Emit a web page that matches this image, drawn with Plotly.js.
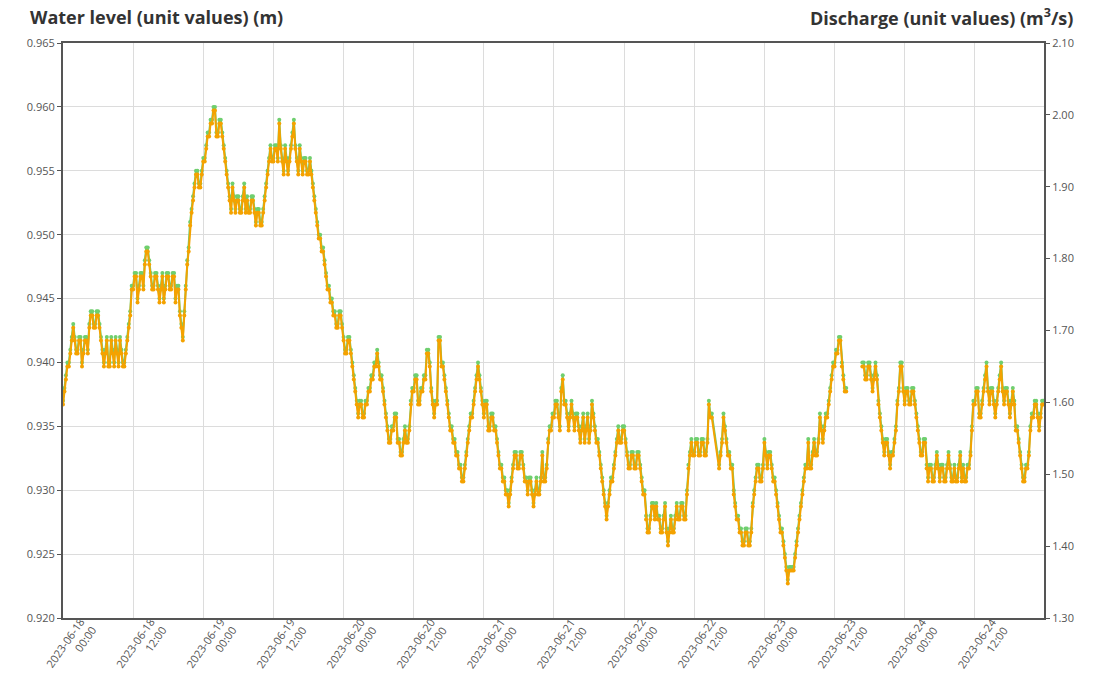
<!DOCTYPE html>
<html>
<head>
<meta charset="utf-8">
<script src="https://cdn.plot.ly/plotly-3.0.1.min.js"></script>
<style>
  html, body { margin: 0; padding: 0; background: #fff; }
  #chart { width: 1095px; height: 673px; }
</style>
</head>
<body>
<div id="chart"></div>
<script>
// 15-minute readings starting 2023-06-18 00:00
const seriesStart = '2023-06-18T00:00:00';
const stepMinutes = 15;

// Water level in millimetres (937 = 0.937 m). null = no reading.
const waterLevelMm = [
  // h 0 - 4.75
  937,938,939,940,940,941,942,943,942,941,941,942,942,940,941,942,942,941,943,944,
  // h 5 - 9.75
  944,943,943,944,944,943,942,941,940,941,942,940,940,942,941,940,942,941,940,942,
  // h 10 - 14.75
  941,940,940,941,942,943,944,946,946,947,947,945,946,947,947,946,948,949,949,948,
  // h 15 - 19.75
  947,946,946,947,947,946,945,946,947,945,946,947,947,946,946,947,947,945,946,946,
  // h 20 - 24.75
  944,943,942,944,946,948,949,951,952,953,954,955,955,954,954,955,956,956,957,958,
  // h 25 - 29.75
  958,959,959,960,960,958,958,959,959,958,957,956,955,954,953,952,954,953,952,953,
  // h 30 - 34.75
  953,952,952,953,954,952,953,952,952,953,953,952,951,952,952,951,951,952,953,954,
  // h 35 - 39.75
  955,956,957,956,956,957,957,956,959,957,956,955,957,956,955,956,957,958,959,957,
  // h 40 - 44.75
  956,955,957,956,955,956,956,955,955,956,955,954,953,952,951,950,950,949,949,948,
  // h 45 - 49.75
  947,946,946,945,945,944,944,943,943,944,944,943,942,941,941,942,942,941,940,939,
  // h 50 - 54.75
  938,937,936,937,937,936,936,937,937,938,938,939,939,940,940,941,940,939,939,938,
  // h 55 - 59.75
  937,936,935,934,934,935,935,936,936,934,934,933,933,934,935,934,934,935,937,938,
  // h 60 - 64.75
  938,939,939,937,937,938,938,939,939,941,941,940,938,937,936,937,937,942,942,940,
  // h 65 - 69.75
  940,939,938,937,936,935,935,934,934,933,933,932,932,931,931,932,933,934,935,936,
  // h 70 - 74.75
  936,937,938,939,940,939,938,937,936,937,937,935,935,936,936,935,935,934,933,932,
  // h 75 - 79.75
  932,931,931,930,930,929,930,931,932,933,933,932,932,933,933,932,931,931,930,931,
  // h 80 - 84.75
  931,930,929,930,931,930,930,931,933,931,931,932,934,935,935,936,936,937,937,936,
  // h 85 - 89.75
  935,938,939,937,937,936,935,936,937,936,935,936,936,935,934,935,936,934,935,936,
  // h 90 - 94.75
  934,935,937,936,935,934,934,933,932,931,930,929,928,929,930,931,931,932,933,934,
  // h 95 - 99.75
  935,934,934,935,935,934,933,932,932,933,933,932,932,933,933,932,931,930,930,928,
  // h 100 - 104.75
  927,927,928,929,929,928,929,928,928,927,927,928,929,927,926,927,928,927,927,928,
  // h 105 - 109.75
  929,928,928,929,929,928,928,930,932,933,934,933,933,934,934,933,933,934,934,933,
  // h 110 - 114.75
  933,934,937,936,936,null,null,null,null,932,933,934,936,935,934,933,933,932,932,930,
  // h 115 - 119.75
  929,928,928,927,927,926,926,927,927,926,926,927,929,930,931,932,932,931,931,932,
  // h 120 - 124.75
  934,933,932,933,933,932,931,931,930,929,928,927,927,926,925,924,923,924,924,924,
  // h 125 - 129.75
  924,925,926,927,928,929,930,931,932,932,934,932,932,933,934,933,933,934,936,935,
  // h 130 - 134.75
  934,935,936,936,937,938,939,940,940,941,941,942,942,940,939,938,938,null,null,null,
  // h 135 - 139.75
  null,null,null,null,null,null,null,940,940,939,939,940,940,939,938,939,940,939,937,936,
  // h 140 - 144.75
  935,934,933,934,934,933,932,933,933,934,935,937,938,940,940,938,937,938,938,937,
  // h 145 - 149.75
  937,938,938,937,936,935,934,933,933,934,934,932,931,932,932,931,931,932,933,932,
  // h 150 - 154.75
  931,932,932,931,931,932,933,932,931,931,932,931,931,932,933,931,932,931,931,932,
  // h 155 - 159.75
  932,933,935,937,937,938,938,936,936,937,938,939,940,938,937,938,938,937,936,937,
  // h 160 - 164.75
  938,939,940,938,937,938,938,937,936,937,938,937,935,935,934,933,932,931,931,932,
  // h 165 - 167.75
  932,933,935,936,936,937,937,936,935,936,937,937
];
// Missing readings (h 111.25 - 112) that the plotted line bridges with a straight segment
const bridgedGaps = [445, 446, 447, 448];

// Rating table read across the two axes: stage (mm) -> discharge (m3/s)
const ratingStageMm = [923,924,925,926,927,928,929,930,931,932,933,934,935,936,937,938,939,940,941,942,
  943,944,945,946,947,948,949,950,951,952,953,954,955,956,957,958,959,960];
const ratingQ = [1.348,1.366,1.384,1.401,1.419,1.437,1.455,1.472,1.490,1.508,
  1.526,1.544,1.561,1.579,1.597,1.615,1.632,1.650,1.668,1.686,
  1.704,1.721,1.739,1.757,1.775,1.792,1.810,1.828,1.846,1.864,
  1.881,1.899,1.917,1.935,1.953,1.970,1.988,2.006];

// Axis ranges and tick labels
const stageRange = [0.920, 0.965];
const dischargeRange = [1.30, 2.10];
const xRange = ['2023-06-18 00:00', '2023-06-24 23:50'];
const tickDates = ['2023-06-18 00:00','2023-06-18 12:00','2023-06-19 00:00','2023-06-19 12:00',
  '2023-06-20 00:00','2023-06-20 12:00','2023-06-21 00:00','2023-06-21 12:00',
  '2023-06-22 00:00','2023-06-22 12:00','2023-06-23 00:00','2023-06-23 12:00',
  '2023-06-24 00:00','2023-06-24 12:00'];

// Build x/y arrays
const t0 = Date.parse(seriesStart + 'Z');
const times = [], stageY = [], qY = [];
waterLevelMm.forEach((mm, i) => {
  if (bridgedGaps.includes(i)) return;
  times.push(new Date(t0 + i * stepMinutes * 60000).toISOString().slice(0, 19).replace('T', ' '));
  if (mm === null) { stageY.push(null); qY.push(null); return; }
  stageY.push(mm / 1000);
  const k = ratingStageMm.indexOf(mm);
  qY.push(k >= 0 ? ratingQ[k] : null);
});

const green = '#6fcf6f';
const orange = '#f4a200';

const traces = [
  {
    x: times, y: stageY, type: 'scatter', mode: 'lines+markers',
    name: 'Water level', yaxis: 'y', connectgaps: false,
    line: { color: green, width: 2 },
    marker: { color: green, size: 4 }
  },
  {
    x: times, y: qY, type: 'scatter', mode: 'lines+markers',
    name: 'Discharge', yaxis: 'y2', connectgaps: false,
    line: { color: orange, width: 2 },
    marker: { color: orange, size: 4 }
  }
];

const tickFont = { family: 'Open Sans, sans-serif', size: 11, color: '#555' };
const titleFont = { family: 'Open Sans, sans-serif', size: 18, color: '#333' };

const annotations = [
  {
    text: '<b>Water level (unit values) (m)</b>', xref: 'paper', yref: 'paper',
    x: 0, y: 1, xanchor: 'left', yanchor: 'middle', xshift: -35, yshift: 26,
    showarrow: false, font: titleFont
  },
  {
    text: '<b>Discharge (unit values) (m<sup>3</sup>/s)</b>', xref: 'paper', yref: 'paper',
    x: 1, y: 1, xanchor: 'right', yanchor: 'middle', xshift: 31, yshift: 26,
    showarrow: false, font: titleFont
  }
];
tickDates.forEach(d => {
  const parts = d.split(' ');
  annotations.push({
    text: parts[0] + '<br>' + parts[1], x: d, xref: 'x', y: 0, yref: 'paper',
    xanchor: 'center', yanchor: 'middle', xshift: 7, yshift: -29,
    textangle: -55, align: 'right', showarrow: false, font: tickFont
  });
});

const layout = {
  width: 1095, height: 673,
  margin: { l: 63, r: 51, t: 43, b: 55 },
  paper_bgcolor: '#fff', plot_bgcolor: '#fff',
  showlegend: false,
  xaxis: {
    type: 'date', range: xRange, dtick: 43200000, tick0: '2023-06-18 00:00',
    showticklabels: false,
    showgrid: true, gridcolor: '#dcdcdc', gridwidth: 1,
    showline: true, linecolor: '#555', linewidth: 2, mirror: true,
    ticks: '', automargin: false, zeroline: false
  },
  yaxis: {
    range: stageRange, dtick: 0.005, tickformat: '.3f', tickfont: tickFont,
    showgrid: true, gridcolor: '#dcdcdc', gridwidth: 1,
    showline: true, linecolor: '#555', linewidth: 2, mirror: true,
    ticks: 'outside', ticklen: 4, tickcolor: '#555',
    automargin: false, zeroline: false
  },
  yaxis2: {
    range: dischargeRange, dtick: 0.1, tickformat: '.2f', tickfont: tickFont,
    overlaying: 'y', side: 'right', showgrid: false,
    showline: true, linecolor: '#555', linewidth: 2,
    ticks: 'outside', ticklen: 4, tickcolor: '#555',
    automargin: false, zeroline: false
  },
  annotations: annotations
};

Plotly.newPlot('chart', traces, layout, { displayModeBar: false, staticPlot: true });
</script>
</body>
</html>
